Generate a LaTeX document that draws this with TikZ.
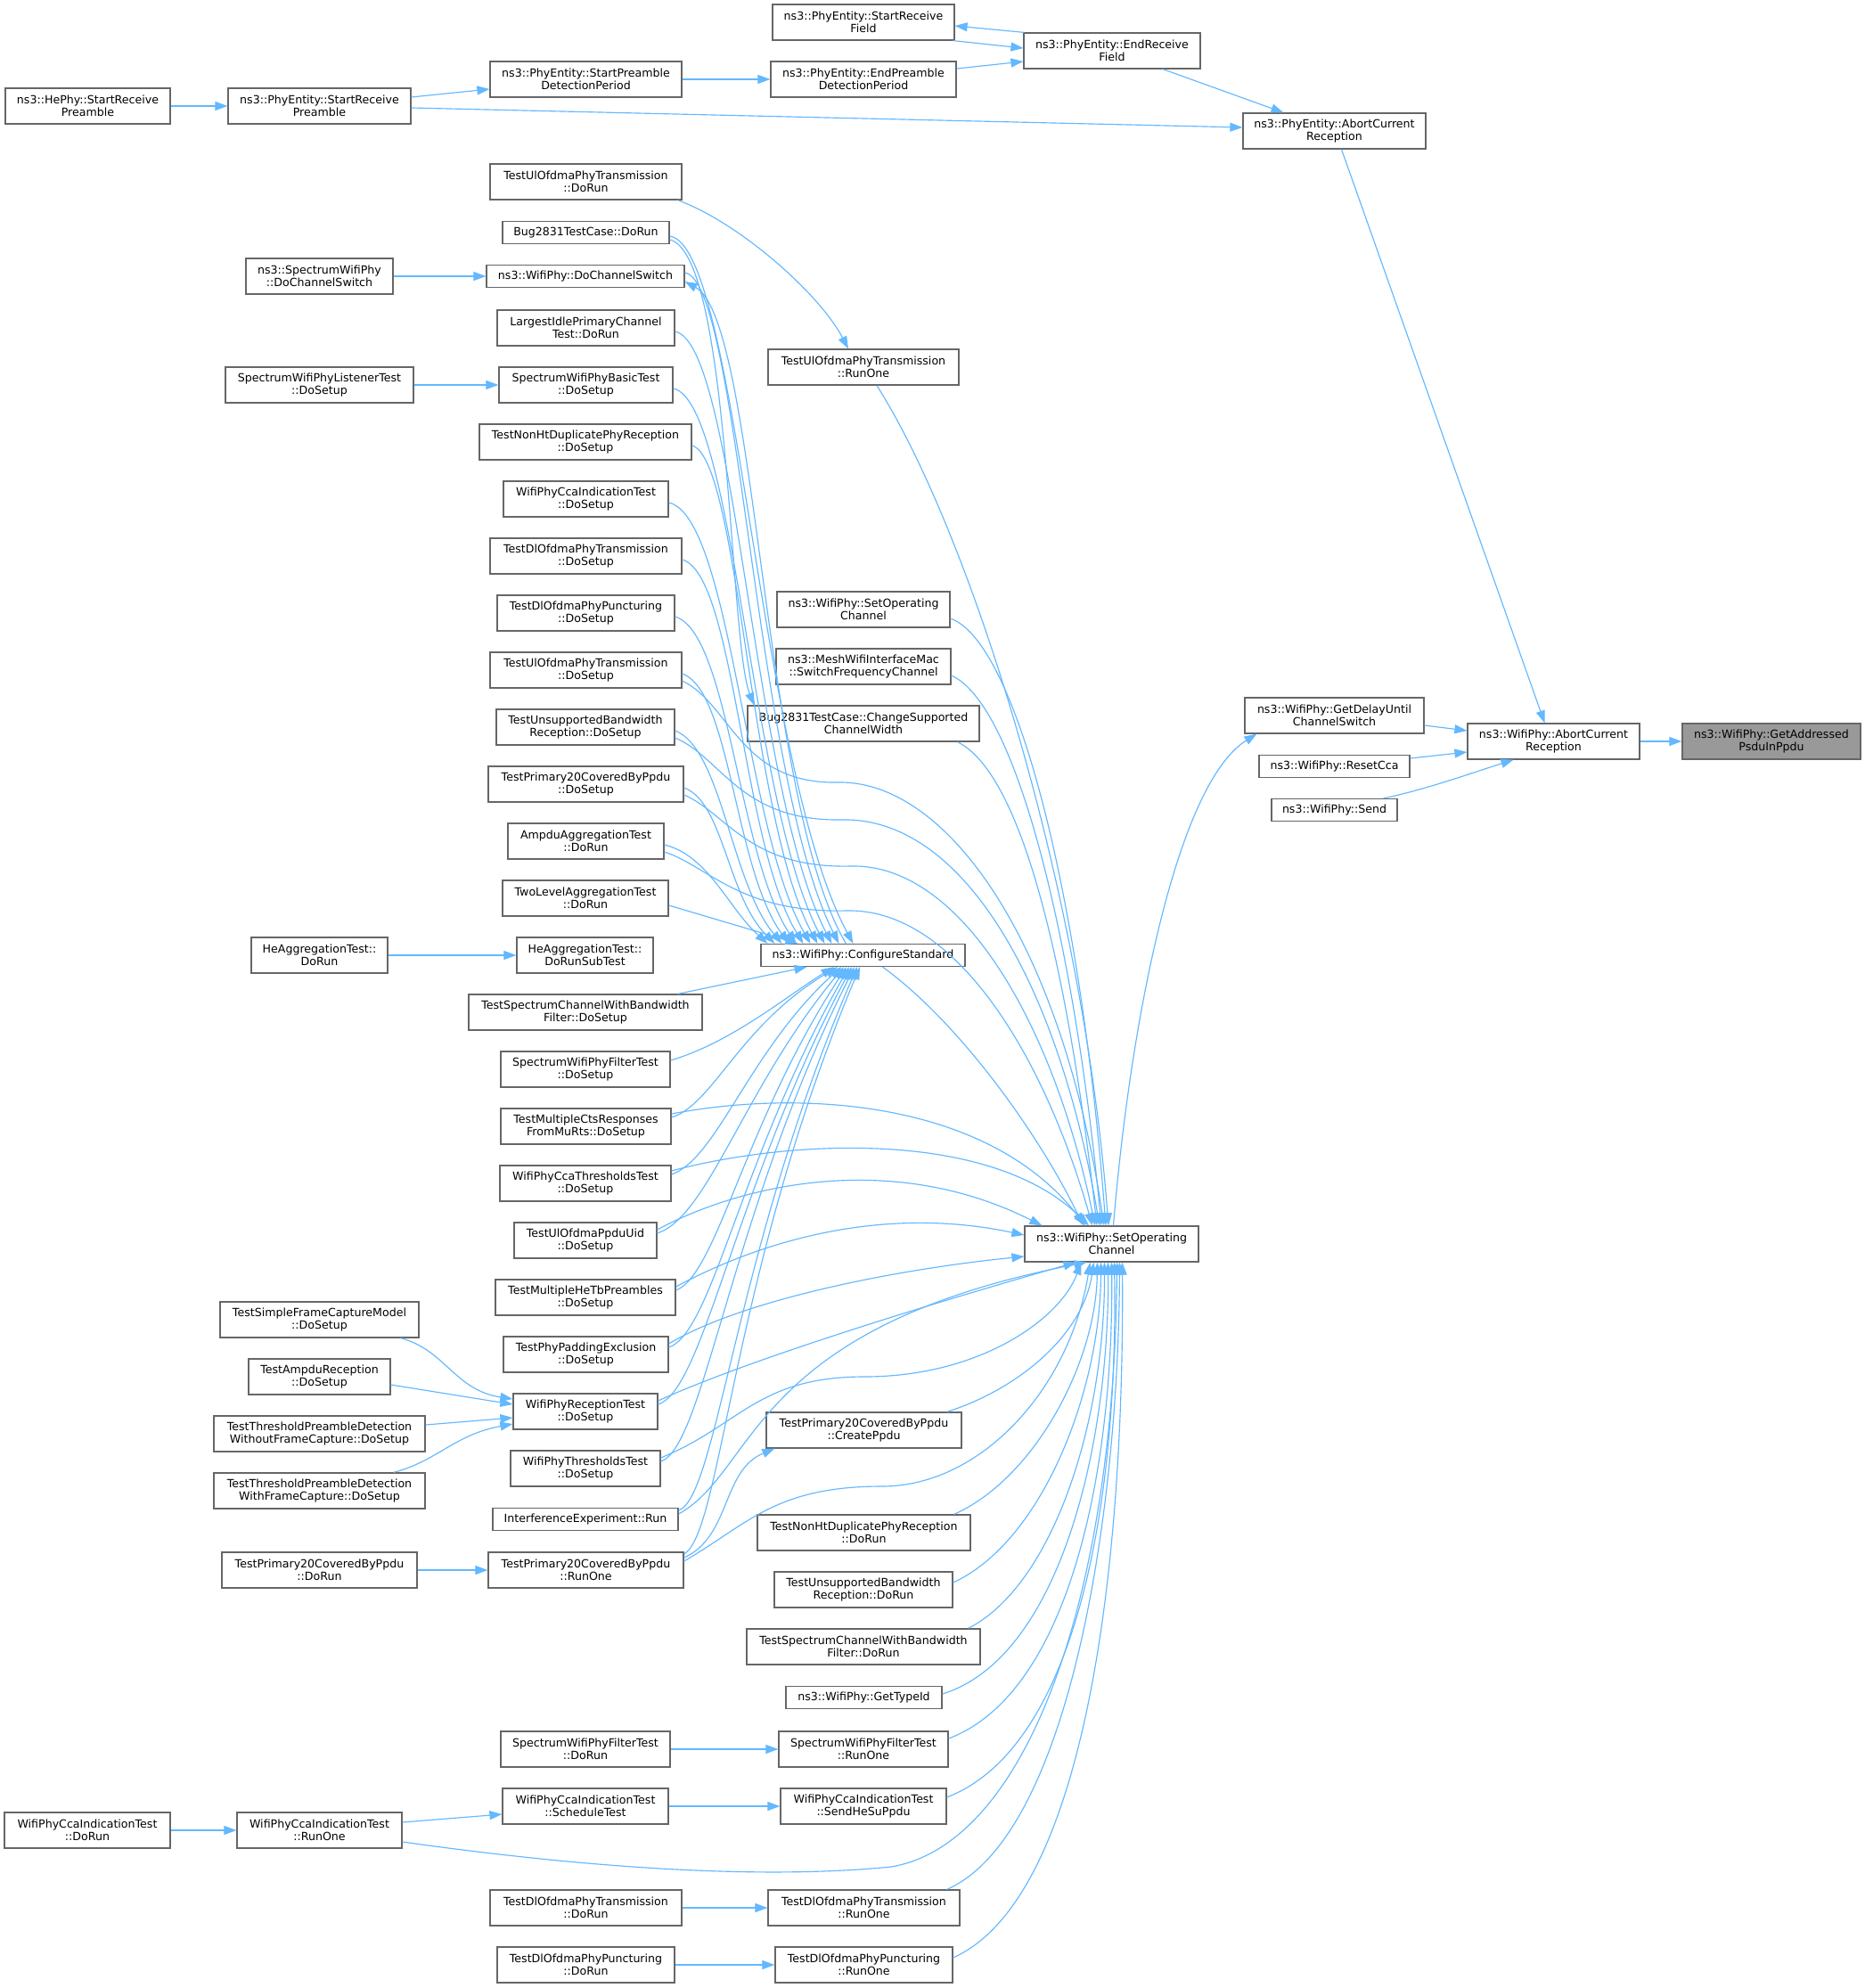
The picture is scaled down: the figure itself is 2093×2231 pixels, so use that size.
\documentclass[tikz,border=0pt]{standalone}
\usepackage{fontspec}
\newfontfamily\dvs{DejaVu Sans}
\usetikzlibrary{arrows.meta}
\definecolor{edgeblue}{HTML}{63B8FF}
\definecolor{boxgray}{HTML}{666666}
\definecolor{focusgray}{HTML}{999999}
\tikzset{
 box/.style={draw=boxgray, line width=1.2pt, fill=white, align=center, inner sep=0pt, minimum height=40pt, text=black, font={\dvs\fontsize{12.6pt}{14pt}\selectfont}},
 one/.style={minimum height=25pt},
 ln/.style={draw=edgeblue, line width=1.15pt, -{Triangle[length=14pt,width=10pt]}},
}
\begin{document}
\begin{tikzpicture}[x=1pt,y=-1pt]
\fill[white] (0,0) rectangle (2093,2231);
\useasboundingbox (0,0) rectangle (2093,2231);
% column A
\node[box,minimum width=185pt] (hePhy) at (98.5,119) {ns3::HePhy::StartReceive\\Preamble};
\node[box,minimum width=186pt] (ccaDoRun) at (98,2054) {WifiPhyCcaIndicationTest\\::DoRun};
% column B
\node[box,minimum width=205pt] (peSRP) at (358.5,119) {ns3::PhyEntity::StartReceive\\Preamble};
\node[box,minimum width=165pt] (spDCS) at (358.5,310) {ns3::SpectrumWifiPhy\\::DoChannelSwitch};
\node[box,minimum width=211pt] (listener) at (358.5,432) {SpectrumWifiPhyListenerTest\\::DoSetup};
\node[box,minimum width=153pt] (heAggDoRun) at (358.5,1072) {HeAggregationTest::\\DoRun};
\node[box,minimum width=223pt] (simpleFC) at (358.5,1481) {TestSimpleFrameCaptureModel\\::DoSetup};
\node[box,minimum width=159pt] (ampduRx) at (358.5,1545) {TestAmpduReception\\::DoSetup};
\node[box,minimum width=237pt] (thrWo) at (358.5,1609) {TestThresholdPreambleDetection\\WithoutFrameCapture::DoSetup};
\node[box,minimum width=237pt] (thrWith) at (358.5,1673) {TestThresholdPreambleDetection\\WithFrameCapture::DoSetup};
\node[box,minimum width=219pt] (p20DoRun) at (358.5,1762) {TestPrimary20CoveredByPpdu\\::DoRun};
\node[box,minimum width=185pt] (ccaRunOne) at (358.5,2054) {WifiPhyCcaIndicationTest\\::RunOne};
% column C
\node[box,minimum width=215pt] (spdp) at (657.5,89) {ns3::PhyEntity::StartPreamble\\DetectionPeriod};
\node[box,minimum width=215pt] (ulDoRun) at (657.5,204) {TestUlOfdmaPhyTransmission\\::DoRun};
\node[box,one,minimum width=187pt] (bugDoRun) at (657.5,261) {Bug2831TestCase::DoRun};
\node[box,one,minimum width=222pt] (wDCS) at (657,310) {ns3::WifiPhy::DoChannelSwitch};
\node[box,minimum width=199pt] (largest) at (657.5,368) {LargestIdlePrimaryChannel\\Test::DoRun};
\node[box,minimum width=195pt] (basic) at (657.5,432) {SpectrumWifiPhyBasicTest\\::DoSetup};
\node[box,minimum width=238pt] (nonHtSetup) at (657,496) {TestNonHtDuplicatePhyReception\\::DoSetup};
\node[box,minimum width=185pt] (ccaSetup) at (657.5,560) {WifiPhyCcaIndicationTest\\::DoSetup};
\node[box,minimum width=215pt] (dlTSetup) at (657.5,624) {TestDlOfdmaPhyTransmission\\::DoSetup};
\node[box,minimum width=199pt] (dlPSetup) at (657.5,688) {TestDlOfdmaPhyPuncturing\\::DoSetup};
\node[box,minimum width=215pt] (ulSetup) at (657.5,752) {TestUlOfdmaPhyTransmission\\::DoSetup};
\node[box,minimum width=200pt] (unsSetup) at (657,816) {TestUnsupportedBandwidth\\Reception::DoSetup};
\node[box,minimum width=219pt] (p20Setup) at (657.5,880) {TestPrimary20CoveredByPpdu\\::DoSetup};
\node[box,minimum width=175pt] (ampdu) at (657.5,944) {AmpduAggregationTest\\::DoRun};
\node[box,minimum width=186pt] (twoLevel) at (657,1008) {TwoLevelAggregationTest\\::DoRun};
\node[box,minimum width=153pt] (heSub) at (656.5,1072) {HeAggregationTest::\\DoRunSubTest};
\node[box,minimum width=262pt] (tscSetup) at (657,1136) {TestSpectrumChannelWithBandwidth\\Filter::DoSetup};
\node[box,minimum width=190pt] (filtSetup) at (657,1200) {SpectrumWifiPhyFilterTest\\::DoSetup};
\node[box,minimum width=191pt] (ctsSetup) at (657.5,1264) {TestMultipleCtsResponses\\FromMuRts::DoSetup};
\node[box,minimum width=192pt] (ccaThr) at (657,1328) {WifiPhyCcaThresholdsTest\\::DoSetup};
\node[box,minimum width=160pt] (uidSetup) at (657,1392) {TestUlOfdmaPpduUid\\::DoSetup};
\node[box,minimum width=202pt] (heTbSetup) at (657,1456) {TestMultipleHeTbPreambles\\::DoSetup};
\node[box,minimum width=185pt] (padSetup) at (657.5,1520) {TestPhyPaddingExclusion\\::DoSetup};
\node[box,minimum width=162pt] (rxSetup) at (657,1584) {WifiPhyReceptionTest\\::DoSetup};
\node[box,minimum width=168pt] (thrSetup) at (657,1648) {WifiPhyThresholdsTest\\::DoSetup};
\node[box,one,minimum width=208pt] (interf) at (657,1705) {InterferenceExperiment::Run};
\node[box,minimum width=219pt] (p20RunOne) at (657.5,1762) {TestPrimary20CoveredByPpdu\\::RunOne};
\node[box,minimum width=190pt] (filtDoRun) at (657,1963) {SpectrumWifiPhyFilterTest\\::DoRun};
\node[box,minimum width=186pt] (schedTest) at (657,2027) {WifiPhyCcaIndicationTest\\::ScheduleTest};
\node[box,minimum width=215pt] (dlTDoRun) at (657.5,2141) {TestDlOfdmaPhyTransmission\\::DoRun};
\node[box,minimum width=199pt] (dlPDoRun) at (657.5,2205) {TestDlOfdmaPhyPuncturing\\::DoRun};
% column D
\node[box,minimum width=204pt] (srf) at (969,25) {ns3::PhyEntity::StartReceive\\Field};
\node[box,minimum width=208pt] (epdp) at (969,89) {ns3::PhyEntity::EndPreamble\\DetectionPeriod};
\node[box,minimum width=214pt] (ulRunOne) at (969,412) {TestUlOfdmaPhyTransmission\\::RunOne};
\node[box,minimum width=194pt] (setOpD) at (969,684) {ns3::WifiPhy::SetOperating\\Channel};
\node[box,minimum width=196pt] (mesh) at (969,748) {ns3::MeshWifiInterfaceMac\\::SwitchFrequencyChannel};
\node[box,minimum width=260pt] (chg) at (969,812) {Bug2831TestCase::ChangeSupported\\ChannelWidth};
\node[box,one,minimum width=229pt] (cfg) at (968.5,1072) {ns3::WifiPhy::ConfigureStandard};
\node[box,minimum width=219pt] (createPpdu) at (969.5,1605) {TestPrimary20CoveredByPpdu\\::CreatePpdu};
\node[box,minimum width=239pt] (nonHtRun) at (969.5,1720) {TestNonHtDuplicatePhyReception\\::DoRun};
\node[box,minimum width=200pt] (unsRun) at (969,1784) {TestUnsupportedBandwidth\\Reception::DoRun};
\node[box,minimum width=262pt] (tscRun) at (969,1848) {TestSpectrumChannelWithBandwidth\\Filter::DoRun};
\node[box,one,minimum width=175pt] (typeId) at (969.5,1905) {ns3::WifiPhy::GetTypeId};
\node[box,minimum width=190pt] (filtRunOne) at (969,1963) {SpectrumWifiPhyFilterTest\\::RunOne};
\node[box,minimum width=186pt] (sendHeSu) at (969,2027) {WifiPhyCcaIndicationTest\\::SendHeSuPpdu};
\node[box,minimum width=215pt] (dlTRunOne) at (969.5,2141) {TestDlOfdmaPhyTransmission\\::RunOne};
\node[box,minimum width=199pt] (dlPRunOne) at (969.5,2205) {TestDlOfdmaPhyPuncturing\\::RunOne};
% column E
\node[box,minimum width=198pt] (erf) at (1248,57) {ns3::PhyEntity::EndReceive\\Field};
\node[box,minimum width=195pt] (setOp) at (1247.5,1396) {ns3::WifiPhy::SetOperating\\Channel};
\node[box,minimum width=205pt] (peAbort) at (1497.5,147) {ns3::PhyEntity::AbortCurrent\\Reception};
\node[box,minimum width=201pt] (delay) at (1497.5,803) {ns3::WifiPhy::GetDelayUntil\\ChannelSwitch};
\node[box,one,minimum width=169pt] (resetCca) at (1497.5,860) {ns3::WifiPhy::ResetCca};
\node[box,one,minimum width=141pt] (send) at (1497.5,909) {ns3::WifiPhy::Send};
\node[box,minimum width=193pt] (wAbort) at (1743.5,832) {ns3::WifiPhy::AbortCurrent\\Reception};
\node[box,fill=focusgray,minimum width=200pt] (target) at (1988,832) {ns3::WifiPhy::GetAddressed\\PsduInPpdu};

% ---- edges: top
\draw[ln] (hePhy.east) -- (peSRP.west);
\draw[ln] ([yshift=10pt]peSRP.east) -- ([yshift=-11pt]spdp.west);
\draw[ln] (spdp.east) -- (epdp.west);
\draw[ln] ([yshift=12pt]epdp.east) -- ([yshift=-12pt]erf.west);
\draw[ln] ([xshift=-2pt]srf.south east) -- ([yshift=3pt]erf.west);
\draw[ln] ([xshift=1pt]erf.north west) -- ([yshift=-4pt]srf.east);
\draw[ln] ([xshift=57pt]erf.south) -- ([xshift=-57pt]peAbort.north);
\draw[ln] ([yshift=-2pt]peSRP.east) -- ([yshift=4pt]peAbort.west);
\draw[ln] ([xshift=8pt]peAbort.south) -- ([xshift=-10pt]wAbort.north);
\draw[ln] ([yshift=-11pt]delay.east) -- ([yshift=12pt]wAbort.west);
\draw[ln] ([yshift=9pt]resetCca.east) -- ([yshift=-12pt]wAbort.west);
\draw[ln] ([xshift=55pt]send.north) .. controls (1600,886) and (1650,868) .. ([xshift=-45pt]wAbort.south);
\draw[ln] (wAbort.east) -- (target.west);
\draw[ln] ([xshift=2pt]setOp.north) .. controls (1268,1150) and (1320,880) .. ([xshift=14pt]delay.south west);
% ---- upper C / D
\draw[ln] ([xshift=-5pt]ulDoRun.south east) .. controls (830,250) and (920,330) .. ([xshift=-17pt]ulRunOne.north);
\draw[ln] ([xshift=15pt]ulRunOne.south) .. controls (1090,600) and (1215,1000) .. ([xshift=-3.5pt]setOp.north);
\draw[ln] ([yshift=-10pt]setOpD.east) .. controls (1140,720) and (1212,1000) .. ([xshift=-6.5pt]setOp.north);
\draw[ln] ([yshift=-10pt]mesh.east) .. controls (1140,790) and (1205,1050) .. ([xshift=-11.5pt]setOp.north);
\draw[ln] ([xshift=-25pt]chg.south east) .. controls (1150,870) and (1200,1100) .. ([xshift=-16.5pt]setOp.north);
\draw[ln] ([xshift=22pt]cfg.south) .. controls (1080,1150) and (1170,1280) .. ([xshift=-32pt]setOp.north);
\draw[ln] ([yshift=-8pt]bugDoRun.east) .. controls (820,285) and (818,720) .. ([xshift=8pt]chg.north west);
\draw[ln] (spDCS.east) -- (wDCS.west);
\draw[ln] (listener.east) -- (basic.west);
\draw[ln] (heAggDoRun.east) -- (heSub.west);
% upper C -> ConfigureStandard
\draw[ln] ([yshift=-4pt]bugDoRun.east) .. controls (828,275) and (850,860) .. ([xshift=104pt]cfg.north west);
\draw[ln] ([yshift=4pt]wDCS.east) .. controls (830,315) and (846,870) .. ([xshift=88pt]cfg.north west);
\draw[ln] ([xshift=96pt]cfg.north west) .. controls (855,900) and (850,360) .. ([yshift=-6pt]wDCS.east);
\draw[ln] ([yshift=-4pt]largest.east) .. controls (826,385) and (844,885) .. ([xshift=80pt]cfg.north west);
\draw[ln] ([yshift=-4pt]basic.east) .. controls (824,450) and (842,900) .. ([xshift=72pt]cfg.north west);
\draw[ln] ([yshift=-4pt]nonHtSetup.east) .. controls (830,515) and (840,915) .. ([xshift=64pt]cfg.north west);
\draw[ln] ([yshift=-4pt]ccaSetup.east) .. controls (820,580) and (836,930) .. ([xshift=56pt]cfg.north west);
\draw[ln] ([yshift=-4pt]dlTSetup.east) .. controls (825,645) and (832,945) .. ([xshift=48pt]cfg.north west);
\draw[ln] ([yshift=-4pt]dlPSetup.east) .. controls (818,710) and (828,960) .. ([xshift=40pt]cfg.north west);
\draw[ln] ([yshift=-4pt]ulSetup.east) .. controls (820,775) and (824,975) .. ([xshift=32pt]cfg.north west);
\draw[ln] ([yshift=-4pt]unsSetup.east) .. controls (810,840) and (820,990) .. ([xshift=24pt]cfg.north west);
\draw[ln] ([yshift=-4pt]p20Setup.east) .. controls (812,900) and (816,1005) .. ([xshift=16pt]cfg.north west);
\draw[ln] ([yshift=-4pt]ampdu.east) .. controls (795,960) and (818,1020) .. ([xshift=8pt]cfg.north west);
\draw[ln] ([yshift=-8pt]twoLevel.east) -- ([xshift=42pt]cfg.north west);
% waves to SetOperatingChannel
\draw[ln] ([yshift=-12pt]ulSetup.east) .. controls (820,790) and (830,880) .. (940,878) .. controls (1060,875) and (1190,1050) .. ([xshift=-8.5pt]setOp.north);
\draw[ln] ([yshift=-12pt]unsSetup.east) .. controls (810,850) and (830,922) .. (945,920) .. controls (1075,917) and (1185,1090) .. ([xshift=-13.5pt]setOp.north);
\draw[ln] ([yshift=-12pt]p20Setup.east) .. controls (815,912) and (840,975) .. (955,972) .. controls (1075,969) and (1180,1140) .. ([xshift=-18.5pt]setOp.north);
\draw[ln] ([yshift=-12pt]ampdu.east) .. controls (795,972) and (830,1025) .. (950,1022) .. controls (1070,1019) and (1170,1180) .. ([xshift=-21.5pt]setOp.north);
% lower C
\draw[ln] ([xshift=-28pt]tscSetup.north east) -- ([xshift=-63pt]cfg.south);
\draw[ln] ([yshift=10pt]filtSetup.east) .. controls (820,1170) and (880,1120) .. ([xshift=-33pt]cfg.south);
\draw[ln] ([yshift=14pt]ctsSetup.east) .. controls (900,1222) and (1110,1235) .. ([xshift=-29.5pt]setOp.north);
\draw[ln] ([yshift=10pt]ctsSetup.east) .. controls (800,1240) and (830,1150) .. ([xshift=-28.5pt]cfg.south);
\draw[ln] ([yshift=14pt]ccaThr.east) .. controls (880,1280) and (1110,1265) .. ([xshift=-25.5pt]setOp.north);
\draw[ln] ([yshift=10pt]ccaThr.east) .. controls (805,1300) and (840,1180) .. ([xshift=-24.5pt]cfg.south);
\draw[ln] ([yshift=12pt]uidSetup.east) .. controls (830,1330) and (1000,1290) .. ([xshift=20pt]setOp.north west);
\draw[ln] ([yshift=8pt]uidSetup.east) .. controls (795,1365) and (835,1220) .. ([xshift=-21.5pt]cfg.south);
\draw[ln] ([yshift=12pt]heTbSetup.east) .. controls (840,1400) and (980,1350) .. ([yshift=10pt]setOp.west);
\draw[ln] ([yshift=8pt]heTbSetup.east) .. controls (805,1430) and (835,1260) .. ([xshift=-18.5pt]cfg.south);
\draw[ln] ([yshift=12pt]padSetup.east) .. controls (830,1460) and (1000,1425) .. ([yshift=-14pt]setOp.west);
\draw[ln] ([yshift=8pt]padSetup.east) .. controls (800,1495) and (830,1300) .. ([xshift=-15.5pt]cfg.south);
\draw[ln] ([yshift=12pt]rxSetup.east) .. controls (830,1530) and (1020,1470) .. ([xshift=-40pt]setOp.south);
\draw[ln] ([yshift=8pt]rxSetup.east) .. controls (790,1560) and (825,1330) .. ([xshift=-12.5pt]cfg.south);
\draw[ln] ([yshift=12pt]thrSetup.east) .. controls (830,1600) and (850,1545) .. (970,1545) .. controls (1100,1545) and (1190,1480) .. ([xshift=-34pt]setOp.south);
\draw[ln] ([yshift=8pt]thrSetup.east) .. controls (790,1625) and (820,1360) .. ([xshift=-9.5pt]cfg.south);
\draw[ln] ([yshift=6pt]interf.east) .. controls (850,1650) and (840,1490) .. ([xshift=-28pt]setOp.south);
\draw[ln] ([yshift=10pt]interf.east) .. controls (805,1680) and (825,1400) .. ([xshift=-6.5pt]cfg.south);
\draw[ln] ([yshift=10pt]p20RunOne.east) .. controls (840,1710) and (870,1668) .. (990,1668) .. controls (1100,1668) and (1200,1560) .. ([xshift=-24pt]setOp.south);
\draw[ln] ([yshift=14pt]p20RunOne.east) .. controls (820,1725) and (810,1650) .. ([xshift=10pt]createPpdu.south west);
\draw[ln] ([yshift=18pt]p20RunOne.east) .. controls (810,1720) and (820,1430) .. ([xshift=-3.5pt]cfg.south);
\draw[ln] ([xshift=-17pt]createPpdu.north east) .. controls (1140,1560) and (1215,1500) .. ([xshift=-20pt]setOp.south);
% D lower -> SetOperatingChannel
\draw[ln] ([xshift=-19pt]nonHtRun.north east) .. controls (1160,1660) and (1230,1530) .. ([xshift=-16pt]setOp.south);
\draw[ln] ([yshift=8pt]unsRun.east) .. controls (1170,1730) and (1235,1560) .. ([xshift=-12pt]setOp.south);
\draw[ln] ([xshift=-14pt]tscRun.north east) .. controls (1180,1780) and (1240,1600) .. ([xshift=-8pt]setOp.south);
\draw[ln] ([yshift=4pt]typeId.east) .. controls (1190,1860) and (1245,1620) .. ([xshift=-4pt]setOp.south);
\draw[ln] ([yshift=12pt]filtRunOne.east) .. controls (1200,1900) and (1250,1650) .. (setOp.south);
\draw[ln] ([yshift=10pt]sendHeSu.east) .. controls (1210,1960) and (1255,1680) .. ([xshift=3pt]setOp.south);
\draw[ln] ([yshift=-13pt]ccaRunOne.east) .. controls (650,2095) and (850,2110) .. (1000,2095) .. controls (1150,2070) and (1250,1800) .. ([xshift=6pt]setOp.south);
\draw[ln] ([xshift=-15pt]dlTRunOne.north east) .. controls (1200,2060) and (1255,1700) .. ([xshift=9pt]setOp.south);
\draw[ln] ([yshift=8pt]dlPRunOne.east) .. controls (1220,2130) and (1262,1750) .. ([xshift=12pt]setOp.south);
% left callers
\draw[ln] ([xshift=-21pt]simpleFC.south east) .. controls (500,1515) and (510,1560) .. ([yshift=14pt]rxSetup.west);
\draw[ln] ([yshift=-9pt]ampduRx.east) -- ([yshift=8pt]rxSetup.west);
\draw[ln] ([yshift=10pt]thrWo.east) -- ([yshift=-7pt]rxSetup.west);
\draw[ln] ([xshift=-36pt]thrWith.north east) .. controls (490,1640) and (510,1610) .. ([yshift=-14pt]rxSetup.west);
\draw[ln] (p20DoRun.east) -- (p20RunOne.west);
\draw[ln] (ccaDoRun.east) -- (ccaRunOne.west);
\draw[ln] ([yshift=9pt]ccaRunOne.east) -- ([yshift=-9pt]schedTest.west);
\draw[ln] (schedTest.east) -- (sendHeSu.west);
\draw[ln] (filtDoRun.east) -- (filtRunOne.west);
\draw[ln] (dlTDoRun.east) -- (dlTRunOne.west);
\draw[ln] (dlPDoRun.east) -- (dlPRunOne.west);
\end{tikzpicture}
\end{document}
